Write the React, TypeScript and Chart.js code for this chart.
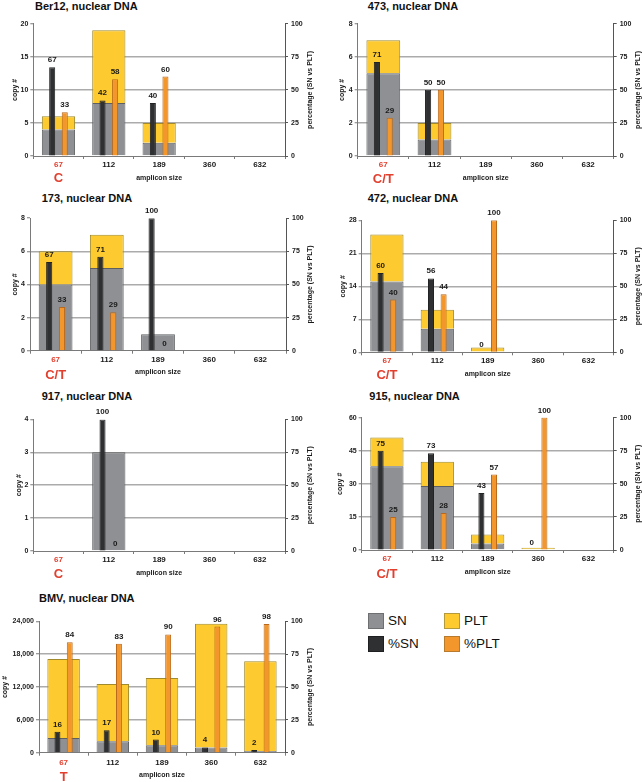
import React, { useEffect, useRef } from 'react';
import { Chart, registerables } from 'chart.js';

Chart.register(...registerables);

const FONT = "'Liberation Sans', Arial, Helvetica, sans-serif";
Chart.defaults.font.family = FONT;

// ---------- data ----------
const categories = ['67', '112', '189', '360', '632'];
const pctTicks = [0, 25, 50, 75, 100];

const ber12Ticks = [0, 5, 10, 15, 20];
const ber12SN = [4, 8, 2, null, null];
const ber12PLT = [2, 11, 3, null, null];
const ber12PctSN = [67, 42, 40, null, null];
const ber12PctPLT = [33, 58, 60, null, null];

const p473Ticks = [0, 2, 4, 6, 8];
const p473SN = [5, 1, null, null, null];
const p473PLT = [2, 1, null, null, null];
const p473PctSN = [71, 50, null, null, null];
const p473PctPLT = [29, 50, null, null, null];

const p173Ticks = [0, 2, 4, 6, 8];
const p173SN = [4, 5, 1, null, null];
const p173PLT = [2, 2, null, null, null];
const p173PctSN = [67, 71, 100, null, null];
const p173PctPLT = [33, 29, 0, null, null];

const p472Ticks = [0, 7, 14, 21, 28];
const p472SN = [15, 5, null, null, null];
const p472PLT = [10, 4, 1, null, null];
const p472PctSN = [60, 56, 0, null, null];
const p472PctPLT = [40, 44, 100, null, null];

const p917Ticks = [0, 1, 2, 3, 4];
const p917SN = [null, 3, null, null, null];
const p917PLT = [null, null, null, null, null];
const p917PctSN = [null, 100, null, null, null];
const p917PctPLT = [null, 0, null, null, null];

const p915Ticks = [0, 15, 30, 45, 60];
const p915SN = [38, 29, 3, null, null];
const p915PLT = [13, 11, 4, 1, null];
const p915PctSN = [75, 73, 43, 0, null];
const p915PctPLT = [25, 28, 57, 100, null];

const bmvTicks = [0, 6000, 12000, 18000, 24000];
const bmvSN = [2700, 2100, 1350, 950, 330];
const bmvPLT = [14400, 10450, 12300, 22600, 16370];
const bmvPctSN = [16, 17, 10, 4, 2];
const bmvPctPLT = [84, 83, 90, 96, 98];

// ---------- styles ----------
const GRAY = '#8E9093';
const GRAY_B = '#5E5F61';
const YELLOW = '#FDCA2F';
const YELLOW_B = '#A08A2C';
const DARK = '#2E3032';
const DARK_B = '#222324';
const ORANGE = '#F3962C';
const ORANGE_B = '#B9691C';
const RED = '#E2402F';
const TXT = '#1A1A1A';
const GRID = '#ABABAB';
const AX = '#7A7A7A';
const AX2 = '#555555';

type Arr = (number | null)[];
type PanelCfg = {
  title: string;
  sn: Arr; plt: Arr; pctSn: Arr; pctPlt: Arr;
  yTicks: number[];
  allele: string;
  colLeft: number; L: number; R: number; T: number; B: number;
  copyX: number; pctX: number; tickPad: number; amplDy: number; alleleDy: number;
  titleX: number; titleY: number;
};

const panels: PanelCfg[] = [
  { title: 'Ber12, nuclear DNA', sn: ber12SN, plt: ber12PLT, pctSn: ber12PctSN, pctPlt: ber12PctPLT, yTicks: ber12Ticks, allele: 'C',
    colLeft: 0, L: 33.3, R: 285, T: 23.7, B: 156, copyX: 15, pctX: 310.5, tickPad: 1, amplDy: 21.7, alleleDy: 22.5, titleX: 35, titleY: 6 },
  { title: '473, nuclear DNA', sn: p473SN, plt: p473PLT, pctSn: p473PctSN, pctPlt: p473PctPLT, yTicks: p473Ticks, allele: 'C/T',
    colLeft: 321, L: 357.7, R: 613.7, T: 23.7, B: 156, copyX: 342.5, pctX: 637.8, tickPad: 1, amplDy: 21.7, alleleDy: 23, titleX: 367.7, titleY: 6 },
  { title: '173, nuclear DNA', sn: p173SN, plt: p173PLT, pctSn: p173PctSN, pctPlt: p173PctPLT, yTicks: p173Ticks, allele: 'C/T',
    colLeft: 0, L: 30, R: 286, T: 218.2, B: 350.7, copyX: 15.5, pctX: 310.5, tickPad: 1.5, amplDy: 21.6, alleleDy: 25, titleX: 41.7, titleY: 197.7 },
  { title: '472, nuclear DNA', sn: p472SN, plt: p472PLT, pctSn: p472PctSN, pctPlt: p472PctPLT, yTicks: p472Ticks, allele: 'C/T',
    colLeft: 321, L: 361.7, R: 613.7, T: 220.3, B: 352.3, copyX: 343.5, pctX: 637.8, tickPad: 1, amplDy: 21.4, alleleDy: 23.4, titleX: 367.7, titleY: 198.3 },
  { title: '917, nuclear DNA', sn: p917SN, plt: p917PLT, pctSn: p917PctSN, pctPlt: p917PctPLT, yTicks: p917Ticks, allele: 'C',
    colLeft: 0, L: 33.3, R: 285, T: 419.4, B: 551, copyX: 18.7, pctX: 310.5, tickPad: 1, amplDy: 22.3, alleleDy: 23, titleX: 41.7, titleY: 395.7 },
  { title: '915, nuclear DNA', sn: p915SN, plt: p915PLT, pctSn: p915PctSN, pctPlt: p915PctPLT, yTicks: p915Ticks, allele: 'C/T',
    colLeft: 321, L: 361.7, R: 613.7, T: 417.6, B: 550, copyX: 339.7, pctX: 637.8, tickPad: 1, amplDy: 21.7, alleleDy: 24, titleX: 369.3, titleY: 395.7 },
  { title: 'BMV, nuclear DNA', sn: bmvSN, plt: bmvPLT, pctSn: bmvPctSN, pctPlt: bmvPctPLT, yTicks: bmvTicks, allele: 'T',
    colLeft: 0, L: 39, R: 285, T: 621.3, B: 752.7, copyX: 4.7, pctX: 310.5, tickPad: 2, amplDy: 22.3, alleleDy: 24.3, titleX: 39, titleY: 598.3 },
];

function Panel({ cfg }: { cfg: PanelCfg }) {
  const ref = useRef<HTMLCanvasElement>(null);
  const width = 321;
  const top = Math.floor(cfg.T - 18);
  const bottom = Math.ceil(cfg.B + 32);
  const height = bottom - top;

  useEffect(() => {
    const leftW = cfg.L - cfg.colLeft;
    const rightW = cfg.colLeft + width - cfg.R;
    const padTop = cfg.T - top;
    const bottomH = bottom - cfg.B;
    const half = 4.2;
    const yMax = cfg.yTicks[cfg.yTicks.length - 1];
    const yStep = cfg.yTicks[1] - cfg.yTicks[0];
    const lastIdx = cfg.yTicks.length - 1;
    const small = { size: 7, weight: 'bold' as const, family: FONT };

    const deco = {
      id: 'deco',
      afterDatasetsDraw(chart: any) {
        const { ctx, chartArea } = chart;
        ctx.save();
        ctx.font = `bold 8px ${FONT}`;
        ctx.fillStyle = TXT;
        ctx.textAlign = 'center';
        ctx.textBaseline = 'alphabetic';
        [2, 3].forEach((di) => {
          const meta = chart.getDatasetMeta(di);
          const data = chart.data.datasets[di].data;
          meta.data.forEach((el: any, j: number) => {
            const v = data[j];
            if (v === null || v === undefined) return;
            ctx.fillText(String(v), el.x, el.y - 5);
          });
        });
        ctx.font = `bold 7px ${FONT}`;
        ctx.textBaseline = 'middle';
        ctx.save();
        ctx.translate(cfg.pctX - cfg.colLeft, (chartArea.top + chartArea.bottom) / 2);
        ctx.rotate(-Math.PI / 2);
        ctx.fillText('percentage (SN vs PLT)', 0, 0);
        ctx.restore();
        ctx.font = `bold 13px ${FONT}`;
        ctx.fillStyle = RED;
        ctx.fillText(cfg.allele, chart.scales.x.getPixelForValue(0), chartArea.bottom + cfg.alleleDy);
        ctx.restore();
      },
    };

    const wide = { xAxisID: 'x', yAxisID: 'y', borderWidth: 1, barPercentage: 0.66, categoryPercentage: 1, grouped: false, order: 2 };
    const narrow = { xAxisID: 'x2', yAxisID: 'y2', borderWidth: 1, barPercentage: 0.48, categoryPercentage: 1, grouped: true, order: 1 };

    const chart = new Chart(ref.current as HTMLCanvasElement, {
      type: 'bar',
      data: {
        labels: categories,
        datasets: [
          { ...wide, label: 'SN', data: cfg.sn, backgroundColor: GRAY, borderColor: GRAY_B, stack: 'wide' },
          { ...wide, label: 'PLT', data: cfg.plt, backgroundColor: YELLOW, borderColor: YELLOW_B, stack: 'wide' },
          { ...narrow, label: '%SN', data: cfg.pctSn, backgroundColor: DARK, borderColor: DARK_B, stack: 'psn' },
          { ...narrow, label: '%PLT', data: cfg.pctPlt, backgroundColor: ORANGE, borderColor: ORANGE_B, stack: 'pplt' },
        ] as any,
      },
      options: {
        responsive: false,
        animation: false,
        devicePixelRatio: 1,
        layout: { padding: { top: padTop, left: 0, right: 0, bottom: 0 } },
        plugins: { legend: { display: false }, tooltip: { enabled: false } },
        scales: {
          x: {
            type: 'category', position: 'bottom', offset: true,
            grid: { offset: true, drawOnChartArea: false, drawTicks: true, tickLength: 3, tickColor: AX, color: AX },
            border: { display: true, color: AX, width: 1 },
            ticks: {
              autoSkip: false, maxRotation: 0, minRotation: 0, padding: cfg.tickPad,
              font: { size: 8, weight: 'bold', family: FONT },
              color: (c: any) => (c.index === 0 ? RED : TXT),
            },
            title: { display: true, text: 'amplicon size', font: small, color: TXT, padding: { top: 0, bottom: Math.max(0, bottomH - cfg.amplDy - half) } },
            afterFit: (s: any) => { s.height = bottomH; },
          },
          x2: { type: 'category', position: 'bottom', display: false, offset: true, grid: { offset: true } },
          y: {
            type: 'linear', position: 'left', stacked: true, min: 0, max: yMax,
            ticks: { stepSize: yStep, padding: 2, font: small, color: TXT, callback: (v: any) => Number(v).toLocaleString('en-US') },
            grid: {
              color: (c: any) => (c.index === 0 || c.index === lastIdx ? 'rgba(0,0,0,0)' : GRID),
              lineWidth: 1.5, drawTicks: true, tickLength: 3, tickColor: AX, tickWidth: 1,
            },
            border: { display: true, color: AX, width: 1 },
            title: { display: true, text: 'copy #', font: small, color: TXT, padding: { top: Math.max(0, cfg.copyX - cfg.colLeft - half), bottom: 0 } },
            afterFit: (s: any) => { s.width = leftW; },
          },
          y2: {
            type: 'linear', position: 'right', stacked: false, min: pctTicks[0], max: pctTicks[pctTicks.length - 1],
            ticks: { stepSize: pctTicks[1] - pctTicks[0], padding: 3, font: small, color: TXT },
            grid: { drawOnChartArea: false, drawTicks: true, tickLength: 3, tickColor: AX2, color: AX2, tickWidth: 1 },
            border: { display: true, color: AX2, width: 1 },
            afterFit: (s: any) => { s.width = rightW; },
          },
        },
      } as any,
      plugins: [deco],
    });
    return () => chart.destroy();
  }, []);

  return (
    <canvas
      ref={ref}
      width={width}
      height={height}
      style={{ position: 'absolute', left: cfg.colLeft, top, width, height }}
    />
  );
}

const legendItems = [
  { label: 'SN', color: GRAY, border: '#6E6F71', x: 368, y: 613 },
  { label: 'PLT', color: YELLOW, border: '#B39A3C', x: 444, y: 613 },
  { label: '%SN', color: DARK, border: '#1E1F20', x: 368, y: 636 },
  { label: '%PLT', color: ORANGE, border: '#B87A2C', x: 444, y: 636 },
];

export default function App() {
  return (
    <div style={{ position: 'absolute', left: 0, top: 0, width: 642, height: 782, overflow: 'hidden', background: '#fff', fontFamily: FONT }}>
      {panels.map((p) => (
        <div key={'t' + p.title} style={{ position: 'absolute', left: p.titleX, top: p.titleY - 7, font: `bold 11px ${FONT}`, lineHeight: '14px', whiteSpace: 'nowrap', color: '#111' }}>
          {p.title}
        </div>
      ))}
      {panels.map((p) => (
        <Panel key={p.title} cfg={p} />
      ))}
      {legendItems.map((it) => (
        <React.Fragment key={it.label}>
          <div style={{ position: 'absolute', left: it.x, top: it.y, width: 14, height: 14, background: it.color, border: `1px solid ${it.border}` }} />
          <div style={{ position: 'absolute', left: it.x + 20, top: it.y, height: 16, lineHeight: '16px', fontSize: 13.5, color: '#111', whiteSpace: 'nowrap' }}>
            {it.label}
          </div>
        </React.Fragment>
      ))}
    </div>
  );
}
